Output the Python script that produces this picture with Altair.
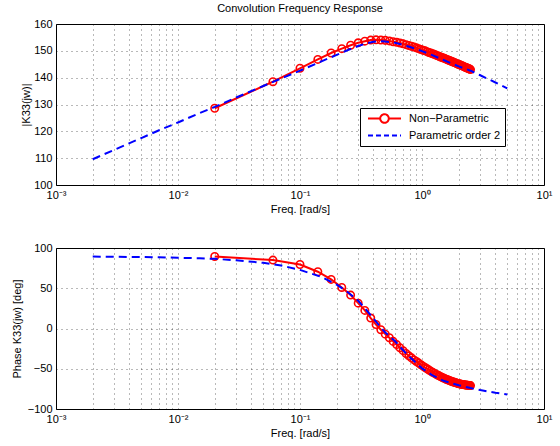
import altair as alt
import pandas as pd

FONT = "Liberation Sans"

# Non-parametric estimate (red, circles)
np_freq = [0.02, 0.06, 0.10, 0.14, 0.18, 0.22, 0.26, 0.30, 0.34, 0.38,
           0.42, 0.46, 0.50, 0.54, 0.58, 0.62, 0.66, 0.70, 0.74, 0.78,
           0.82, 0.86, 0.90, 0.94, 0.98, 1.02, 1.06, 1.10, 1.14, 1.18,
           1.22, 1.26, 1.30, 1.34, 1.38, 1.42, 1.46, 1.50, 1.54, 1.58,
           1.62, 1.66, 1.70, 1.74, 1.78, 1.82, 1.86, 1.90, 1.94, 1.98,
           2.02, 2.06, 2.10, 2.14, 2.18, 2.22, 2.26, 2.30, 2.34, 2.38,
           2.42, 2.46, 2.50]
np_mag = [128.6, 138.5, 143.5, 146.8, 149.2, 150.8, 152.1, 153.0, 153.6, 154.0,
          154.1, 154.0, 153.9, 153.7, 153.4, 153.2, 152.9, 152.6, 152.3, 152.0,
          151.7, 151.4, 151.1, 150.8, 150.5, 150.2, 150.0, 149.7, 149.4, 149.2,
          148.9, 148.7, 148.4, 148.2, 148.0, 147.7, 147.5, 147.3, 147.1, 146.9,
          146.7, 146.5, 146.3, 146.1, 145.9, 145.7, 145.6, 145.4, 145.2, 145.0,
          144.9, 144.7, 144.5, 144.4, 144.2, 144.1, 143.9, 143.8, 143.6, 143.5,
          143.3, 143.2, 143.0]
np_phase = [89.5, 85.0, 79.5, 70.5, 61.0, 51.0, 41.5, 31.5, 22.5, 13.0,
            5.0, -1.5, -7.0, -11.5, -16.0, -20.0, -24.0, -27.5, -31.0, -34.0,
            -36.5, -39.0, -41.0, -43.0, -45.0, -46.8, -48.5, -50.0, -51.5, -53.0,
            -54.3, -55.5, -56.7, -57.8, -58.8, -59.8, -60.7, -61.5, -62.3, -63.0,
            -63.7, -64.4, -65.0, -65.6, -66.1, -66.6, -67.1, -67.5, -67.9, -68.3,
            -68.6, -68.9, -69.2, -69.5, -69.7, -69.9, -70.1, -70.3, -70.5, -70.6,
            -70.7, -70.8, -70.9]

# Parametric order 2 model (blue, dashed)
p_freq = [0.002, 0.003, 0.005, 0.007, 0.01, 0.015, 0.02, 0.03, 0.05, 0.07,
          0.1, 0.15, 0.2, 0.25, 0.3, 0.35, 0.4, 0.45, 0.5, 0.6,
          0.7, 0.8, 1.0, 1.2, 1.5, 2.0, 2.5, 3.0, 4.0, 5.0]
p_mag = [109.6, 113.1, 117.5, 120.4, 123.3, 126.8, 129.1, 132.6, 136.9, 139.7,
         142.6, 146.1, 148.5, 150.4, 151.8, 152.8, 153.4, 153.6, 153.5, 153.0,
         152.2, 151.4, 149.9, 148.5, 146.6, 144.2, 142.6, 140.9, 138.2, 136.0]
p_phase = [89.3, 89.1, 88.8, 88.4, 87.9, 87.2, 86.5, 84.8, 81.6, 78.3,
           72.8, 64.0, 54.5, 44.5, 34.5, 23.0, 12.5, 3.0, -5.0, -15.5,
           -27.0, -36.0, -49.5, -57.5, -65.0, -70.5, -74.0, -76.5, -79.8, -82.0]

series_names = ["Non\u2212Parametric", "Parametric order 2"]
series_colors = ["#ff0000", "#0000ff"]

x_ticks = [0.001, 0.002, 0.003, 0.004, 0.005, 0.006, 0.007, 0.008, 0.009,
           0.01, 0.02, 0.03, 0.04, 0.05, 0.06, 0.07, 0.08, 0.09,
           0.1, 0.2, 0.3, 0.4, 0.5, 0.6, 0.7, 0.8, 0.9,
           1, 2, 3, 4, 5, 6, 7, 8, 9, 10]
mag_ticks = [100, 110, 120, 130, 140, 150, 160]
phase_ticks = [-100, -50, 0, 50, 100]

df_np = pd.DataFrame({"f": np_freq, "mag": np_mag, "phase": np_phase,
                      "series": series_names[0]})
df_p = pd.DataFrame({"f": p_freq, "mag": p_mag, "phase": p_phase,
                     "series": series_names[1]})

label_expr = ("datum.value == 0.001 ? '10\u207b\u00b3' : datum.value == 0.01 ? '10\u207b\u00b2' : "
              "datum.value == 0.1 ? '10\u207b\u00b9' : datum.value == 1 ? '10\u2070' : "
              "datum.value == 10 ? '10\u00b9' : ''")

xscale = alt.Scale(type="log", domain=[0.001, 10], nice=False)
xenc = alt.X("f:Q", scale=xscale,
             axis=alt.Axis(values=x_ticks, labelExpr=label_expr, title="Freq. [rad/s]",
                           labelFlush=False, labelOverlap=False, titlePadding=3))

W, H = 488, 161

legend = alt.Legend(orient="none", legendX=304, legendY=84, title=None,
                    labelFont=FONT, labelFontSize=11, labelColor="black",
                    symbolSize=1089, symbolStrokeWidth=2, clipHeight=13,
                    rowPadding=4, padding=4, labelOffset=7, symbolOffset=3,
                    strokeColor="black", fillColor="white", cornerRadius=0)

sym_np = "M-1,0H-0.26M0.26,0H1M0.26,0A0.26,0.26 0 1 1 -0.26,0A0.26,0.26 0 1 1 0.26,0"
sym_p = "M-1,0H1"


def panel(field, ticks, dom, title, tpad, with_legend):
    yenc = alt.Y(f"{field}:Q", scale=alt.Scale(domain=dom, nice=False, zero=False),
                 axis=alt.Axis(values=ticks, title=title, titlePadding=tpad))
    red_line = alt.Chart(df_np).mark_line(color="#ff0000", strokeWidth=2).encode(x=xenc, y=yenc)
    red_pts = alt.Chart(df_np).mark_point(shape="circle", filled=False, color="#ff0000",
                                          size=55, strokeWidth=1.6, opacity=1).encode(x=xenc, y=yenc)
    blue_line = alt.Chart(df_p).mark_line(color="#0000ff", strokeWidth=2,
                                          strokeDash=[8, 5]).encode(x=xenc, y=yenc)
    layers = [red_line, red_pts, blue_line]
    if with_legend:
        leg = alt.Chart(df_np).transform_filter("false").mark_point(
            filled=False, strokeWidth=2, opacity=1).encode(
            x=xenc, y=yenc,
            color=alt.Color("series:N", scale=alt.Scale(domain=series_names, range=series_colors),
                            legend=legend),
            shape=alt.Shape("series:N", scale=alt.Scale(domain=series_names, range=[sym_np, sym_p]),
                            legend=legend),
            strokeDash=alt.StrokeDash("series:N",
                                      scale=alt.Scale(domain=series_names, range=[[1, 0], [5, 3]]),
                                      legend=legend),
        )
        layers.append(leg)
    return alt.layer(*layers).properties(width=W, height=H)


top = panel("mag", mag_ticks, [100, 160], "|K33(jw)|", 2, True).properties(
    title=alt.Title("Convolution Frequency Response", fontSize=11, fontWeight="normal",
                    font=FONT, color="black", anchor="middle", frame="group", offset=4))
bottom = panel("phase", phase_ticks, [-100, 100], "Phase K33(jw) [deg]", 5, False)

chart = alt.vconcat(top, bottom, spacing=26).properties(
    padding={"left": 10, "top": 2, "right": 5, "bottom": 5}
).configure_view(stroke="black", strokeWidth=1).configure_axis(
    labelFont=FONT, titleFont=FONT, labelFontSize=11, titleFontSize=11,
    titleFontWeight="normal", labelColor="black", titleColor="black",
    grid=True, gridColor="#000000", gridOpacity=0.55, gridDash=[1, 4], gridWidth=1,
    ticks=False, domain=False, labelPadding=4
)

chart.save("out.html", embed_options={"renderer": "svg", "actions": False})
